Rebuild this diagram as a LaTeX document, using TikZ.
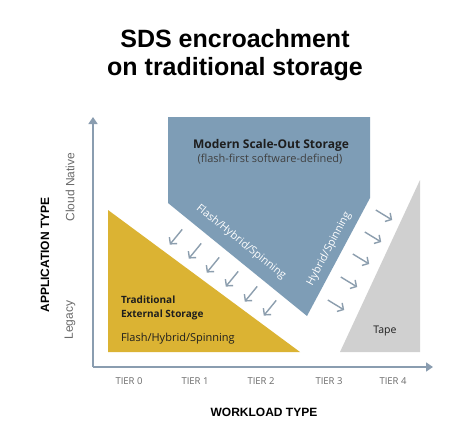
\documentclass[tikz,border=0pt]{standalone}
\usepackage{fontspec}
\setmainfont{Open Sans}
\newfontfamily\arialfont{Liberation Sans}
\usetikzlibrary{arrows.meta}
\definecolor{bluefill}{HTML}{7E9DB6}
\definecolor{yellowfill}{HTML}{DBB333}
\definecolor{grayfill}{HTML}{D0D0D0}
\definecolor{axiscol}{HTML}{8A9DB0}
\definecolor{arrowcol}{HTML}{8C9EAE}
\definecolor{darktext}{HTML}{1E1E1E}
\definecolor{graytext}{HTML}{6A6A6A}
\begin{document}
\begin{tikzpicture}[x=1pt,y=-1pt,
  every node/.style={inner sep=0pt, outer sep=0pt},
  axisline/.style={draw=axiscol, line width=1.6pt, -{Triangle[length=7pt,width=9pt]}},
  flowarrow/.style={draw=arrowcol, line width=1.4pt, -{Straight Barb[length=4.5pt,width=10pt]}},
  titletext/.style={font=\arialfont\bfseries\fontsize{25}{30}\selectfont, text=black, anchor=base},
  axistitle/.style={font=\arialfont\bfseries\fontsize{12}{14}\selectfont, text=black},
  axisvalue/.style={font=\arialfont\fontsize{12}{14}\selectfont, text=graytext, rotate=90},
  tier/.style={font=\fontsize{9.5}{11}\selectfont, text=graytext},
  edgelabel/.style={font=\fontsize{10.8}{12}\selectfont, text=white},
  darklabel/.style={text=darktext, anchor=base west}]
\useasboundingbox (0,0) rectangle (474,444);
\fill[white] (0,0) rectangle (474,444);
% title
\node[titletext] (t1) at (235,47.5) {SDS encroachment};
\node[titletext] (t2) at (235,75) {on traditional storage};
% shapes
\fill[bluefill] (168,117) -- (370,117) -- (370,198) -- (307,316) -- (168,203) -- cycle;
\fill[yellowfill] (108,210) -- (300,352) -- (108,352) -- cycle;
\fill[grayfill] (340,352) -- (420,180) -- (420,352) -- cycle;
% axes
\coordinate (origin) at (93,367);
\coordinate (ytip) at (93,117);
\coordinate (xtip) at (433,367);
\draw[axisline] (origin) -- (ytip);
\draw[axisline] (origin) -- (xtip);
% arrows (left set)
\foreach \i/\x/\y in {1/176/237, 2/195/251, 3/213/265, 4/232/279, 5/251/294, 6/270/308} {
  \coordinate (la\i) at (\x,\y);
  \draw[flowarrow] ([shift={(6.2,-7.6)}]la\i) -- ([shift={(-6.2,7.6)}]la\i);
}
% arrows (right set)
\foreach \i/\x/\y in {1/384/215, 2/373/237, 3/361/259, 4/349/282, 5/336/305} {
  \coordinate (ra\i) at (\x,\y);
  \draw[flowarrow] ([shift={(-8.2,-5)}]ra\i) -- ([shift={(8.2,5)}]ra\i);
}
% blue texts
\node[font=\bfseries\fontsize{12}{14}\selectfont, text=darktext, anchor=base] (modern) at (271,148) {Modern Scale-Out Storage};
\node[font=\fontsize{11}{13}\selectfont, text=darktext!85, anchor=base] (flashfirst) at (270,162) {(flash-first software-defined)};
\node[edgelabel, rotate=-39] (fhs) at (241,242) {Flash/Hybrid/Spinning};
\node[edgelabel, rotate=62] (hs) at (329,249) {Hybrid/Spinning};
% yellow texts
\node[darklabel, font=\bfseries\fontsize{10}{12}\selectfont] (trad1) at (121,303) {Traditional};
\node[darklabel, font=\bfseries\fontsize{10}{12}\selectfont] (trad2) at (121,317) {External Storage};
\node[darklabel, font=\fontsize{11}{13}\selectfont] (tradm) at (121,341) {Flash/Hybrid/Spinning};
% tape
\node[font=\fontsize{10.5}{12}\selectfont, text=darktext] (tape) at (385,331) {Tape};
% tiers
\node[tier] (tier0) at (129,381) {TIER 0};
\node[tier] (tier1) at (195,381) {TIER 1};
\node[tier] (tier2) at (261,381) {TIER 2};
\node[tier] (tier3) at (329,381) {TIER 3};
\node[tier] (tier4) at (393,381) {TIER 4};
% axis titles
\node[axistitle] (wl) at (264,412) {WORKLOAD TYPE};
\node[axistitle, rotate=90] (app) at (45,255) {APPLICATION TYPE};
\node[axisvalue] (cloud) at (70,187) {Cloud Native};
\node[axisvalue] (legacy) at (70,320) {Legacy};
\end{tikzpicture}
\end{document}
